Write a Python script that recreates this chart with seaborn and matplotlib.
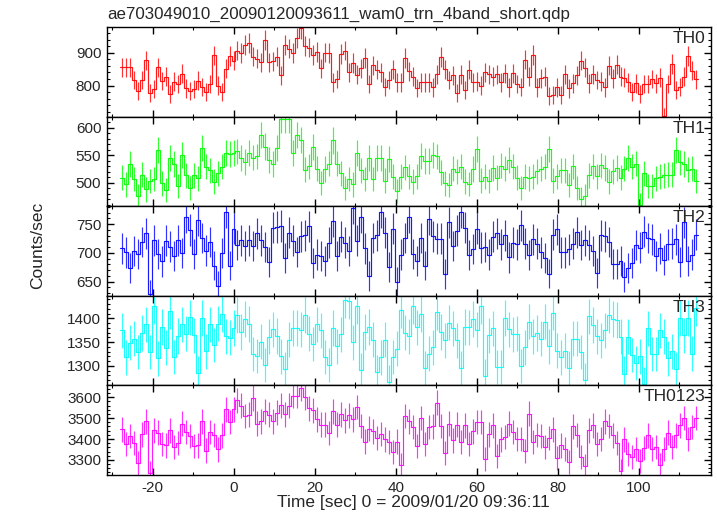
import matplotlib
matplotlib.use("Agg")
import matplotlib.pyplot as plt
from matplotlib.ticker import MultipleLocator
import numpy as np
import pandas as pd
import seaborn as sns

# light curves (counts/sec), ~1 s bins from -28.1 s to 114.7 s
th0 = [856, 856, 856, 817, 783, 817, 877, 776, 789, 856, 814, 827, 773, 812, 804, 836, 791, 783, 789, 815,
       796, 781, 804, 892, 800, 781, 851, 890, 876, 907, 900, 924, 929, 888, 882, 871, 939, 871, 874, 888,
       831, 923, 913, 900, 945, 975, 921, 916, 893, 903, 853, 901, 900, 810, 820, 897, 907, 841, 869, 833,
       853, 884, 804, 862, 848, 841, 796, 817, 850, 810, 810, 884,
       843, 827, 793, 810, 810, 810, 794, 835, 887, 850, 817, 831, 776, 833, 786, 848, 810, 812, 800, 840,
       835, 827, 835, 810, 838, 794, 838, 804, 796, 879, 827, 893, 794, 822, 827, 767, 771, 794, 771, 835,
       791, 807, 831, 876, 855, 807, 835, 817, 812, 794, 861, 822, 864, 827, 824, 810, 779, 807, 774, 804,
       804, 820, 807, 824, 706, 804, 866, 786, 796, 827, 890, 845, 819]
th1 = [509, 497, 534, 507, 476, 515, 488, 503, 507, 560, 499, 487, 545, 534, 494, 551, 514, 491, 514, 508,
       563, 529, 523, 502, 517, 529, 555, 552, 555, 557, 545, 538, 554, 546, 548, 587, 566, 541, 534, 563,
       616, 616, 616, 555, 587, 578, 524, 530, 565, 526, 500, 525, 535, 577, 535, 517, 491, 507, 497, 554,
       523, 507, 545, 507, 545, 545, 504, 543, 511, 485, 511, 528,
       512, 502, 512, 549, 540, 540, 551, 548, 519, 499, 496, 526, 520, 529, 502, 498, 525, 562, 504, 511,
       503, 527, 509, 531, 526, 541, 529, 509, 491, 511, 508, 511, 521, 526, 529, 561, 504, 512, 523, 523,
       496, 530, 491, 471, 476, 514, 530, 512, 532, 527, 502, 521, 527, 509, 526, 545, 529, 535, 460, 517,
       494, 494, 508, 511, 514, 515, 515, 560, 537, 534, 524, 526, 503]
th2 = [708, 701, 674, 703, 698, 719, 734, 628, 722, 698, 685, 721, 711, 695, 722, 700, 762, 740, 698, 757,
       726, 704, 719, 678, 643, 700, 772, 678, 742, 714, 722, 712, 722, 712, 734, 722, 710, 684, 744, 745,
       747, 691, 735, 721, 702, 729, 731, 746, 682, 697, 694, 686, 718, 756, 694, 728, 718, 703, 778, 721,
       762, 708, 660, 726, 731, 771, 735, 676, 742, 650, 697, 726,
       763, 698, 686, 726, 678, 759, 729, 725, 725, 663, 753, 712, 739, 772, 744, 696, 707, 742, 709, 710,
       697, 728, 734, 715, 731, 692, 718, 715, 748, 716, 696, 724, 716, 701, 691, 664, 732, 741, 701, 701,
       706, 716, 736, 714, 722, 714, 703, 665, 731, 729, 719, 681, 681, 686, 658, 674, 682, 714, 709, 737,
       726, 724, 694, 708, 687, 715, 716, 724, 684, 753, 686, 697, 732]
th3 = [1375, 1318, 1349, 1357, 1329, 1369, 1387, 1329, 1425, 1316, 1382, 1338, 1416, 1319, 1363, 1387, 1368, 1402, 1364, 1286,
       1400, 1331, 1387, 1344, 1389, 1409, 1362, 1359, 1380, 1407, 1371, 1398, 1388, 1325, 1321, 1351, 1302, 1361, 1377, 1363,
       1320, 1293, 1355, 1380, 1380, 1376, 1407, 1368, 1346, 1387, 1375, 1319, 1302, 1380, 1341, 1366, 1438, 1436, 1350, 1425,
       1291, 1371, 1382, 1355, 1288, 1318, 1355, 1266, 1319, 1336, 1418, 1370,
       1362, 1426, 1381, 1409, 1295, 1326, 1339, 1413, 1371, 1354, 1391, 1379, 1354, 1295, 1382, 1381, 1398, 1376, 1426, 1279,
       1364, 1379, 1298, 1298, 1400, 1377, 1366, 1368, 1300, 1339, 1393, 1362, 1369, 1357, 1393, 1341, 1412, 1332, 1318, 1332,
       1295, 1357, 1357, 1329, 1271, 1404, 1386, 1362, 1354, 1375, 1406, 1398, 1396, 1361, 1284, 1361, 1323, 1306, 1320, 1262,
       1379, 1325, 1325, 1375, 1361, 1316, 1331, 1293, 1401, 1364, 1401, 1326, 1421]
th0123 = [3446, 3377, 3414, 3382, 3286, 3422, 3484, 3238, 3441, 3430, 3377, 3369, 3441, 3361, 3380, 3473, 3433, 3414, 3366, 3369,
          3484, 3345, 3433, 3420, 3350, 3417, 3542, 3481, 3542, 3585, 3558, 3510, 3516, 3596, 3473, 3484, 3532, 3516, 3484, 3526,
          3561, 3518, 3558, 3606, 3606, 3644, 3601, 3548, 3537, 3494, 3468, 3468, 3428, 3532, 3468, 3518, 3489, 3513, 3494, 3553,
          3462, 3388, 3449, 3436, 3404, 3425, 3398, 3385, 3337, 3388, 3276, 3510,
          3484, 3457, 3366, 3500, 3377, 3457, 3460, 3574, 3462, 3332, 3473, 3393, 3468, 3385, 3465, 3377, 3436, 3481, 3481, 3305,
          3422, 3465, 3318, 3398, 3409, 3473, 3433, 3401, 3401, 3342, 3521, 3385, 3420, 3414, 3361, 3404, 3446, 3308, 3369, 3353,
          3289, 3460, 3420, 3313, 3273, 3441, 3465, 3377, 3401, 3484, 3462, 3417, 3382, 3249, 3398, 3329, 3313, 3353, 3294, 3356,
          3417, 3353, 3361, 3276, 3353, 3430, 3361, 3417, 3465, 3500, 3401, 3457, 3500]

names = ["TH0", "TH1", "TH2", "TH3", "TH0123"]
colors = ["#ff0000", "#00ff00", "#0000ff", "#00ffff", "#ff00ff"]
ylims = [(704, 978), (457, 620), (625, 781), (1259, 1447), (3228, 3656)]
ymajor = [100, 50, 50, 50, 100]

sns.set_theme(style="ticks")
plt.rcParams["font.family"] = ["Liberation Sans", "DejaVu Sans"]
plt.rcParams["axes.unicode_minus"] = False

edges = np.linspace(-28.1, 114.7, len(th0) + 1)
centers = 0.5 * (edges[:-1] + edges[1:])

fig, axes = plt.subplots(5, 1, sharex=True, figsize=(7.17, 5.16), dpi=100)
fig.subplots_adjust(left=0.149, right=0.992, top=0.947, bottom=0.0795, hspace=0)

for ax, name, rate, color, ylim, maj in zip(axes, names, [th0, th1, th2, th3, th0123], colors, ylims, ymajor):
    rate = np.array(rate, dtype=float)
    df = pd.DataFrame({"time": edges, "rate": np.append(rate, rate[-1])})
    sns.lineplot(data=df, x="time", y="rate", drawstyle="steps-post", color=color,
                 lw=0.85, alpha=0.9, estimator=None, ax=ax)
    # Poisson errors for 1 s bins
    ax.errorbar(centers, rate, yerr=np.sqrt(rate), fmt="none", ecolor=color, elinewidth=0.85, alpha=0.8)
    ax.set_ylim(*ylim)
    ax.set_xlim(-31.3, 117.9)
    ax.set_xlabel("")
    ax.set_ylabel("")
    ax.yaxis.set_major_locator(MultipleLocator(maj))
    ax.yaxis.set_minor_locator(MultipleLocator(maj / 5))
    ax.xaxis.set_major_locator(MultipleLocator(20))
    ax.xaxis.set_minor_locator(MultipleLocator(10))
    ax.tick_params(which="both", direction="in", top=True, right=True, color="black",
                   labelsize=11, pad=4)
    ax.tick_params(which="major", length=5, width=1)
    ax.tick_params(which="minor", length=2.5, width=0.8)
    for s in ax.spines.values():
        s.set_linewidth(1.0)
        s.set_color("black")
    ax.text(0.99, 0.955, name, transform=ax.transAxes, ha="right", va="top", fontsize=12.5)

fig.text(0.149, 0.972, "ae703049010_20090120093611_wam0_trn_4band_short.qdp",
         ha="left", va="center", fontsize=12.2)
fig.text(0.053, 0.525, "Counts/sec", rotation=90, ha="center", va="center", fontsize=12.5)
fig.text(0.576, 0.027, "Time [sec] 0 = 2009/01/20 09:36:11", ha="center", va="center", fontsize=12.5)

fig.savefig("out.png", dpi=100)
